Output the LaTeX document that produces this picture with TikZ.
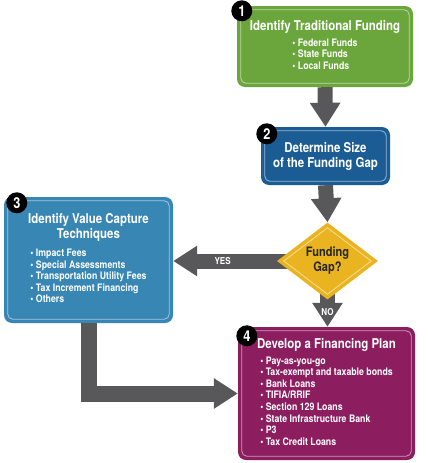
\documentclass[tikz,border=0pt]{standalone}
\usepackage{fontspec}
\setmainfont[FakeStretch=0.85]{TeX Gyre Heros}
\usetikzlibrary{arrows.meta,shapes.geometric}
\definecolor{grn}{RGB}{106,166,60}
\definecolor{dblu}{RGB}{28,92,148}
\definecolor{lblu}{RGB}{56,134,180}
\definecolor{mag}{RGB}{140,30,96}
\definecolor{ylw}{RGB}{234,180,32}
\definecolor{arrgray}{RGB}{88,88,90}
\tikzset{every node/.style={draw=none,inner sep=0pt},
  box/.style={rounded corners=8pt,text=white,align=center,
    font=\bfseries\fontsize{13.5}{15}\selectfont},
  num/.style={circle,fill=black,text=white,minimum size=21pt,
    font=\bfseries\fontsize{15}{15}\selectfont},
  arr/.style={draw=arrgray,line width=15pt,-{Triangle[length=24pt,width=29pt]}},
  lab/.style={text=white,font=\bfseries\fontsize{9.5}{9.5}\selectfont}}
\newcommand\blist{\fontsize{10.3}{11.6}\selectfont}

\begin{document}
\begin{tikzpicture}[x=1pt,y=-1pt]
\fill[white] (0,0) rectangle (428,463);
\useasboundingbox (0,0) rectangle (428,463);
      \node[box,fill=grn,minimum width=176pt,minimum height=81pt] (1) at (325,46.5)
        {Identify Traditional Funding\\[1pt]{\blist\begin{tabular}[t]{@{}l@{}}
        • Federal Funds\\ • State Funds\\ • Local Funds\end{tabular}}};
      \node[box,fill=dblu,minimum width=129pt,minimum height=58pt] (2) at (325.5,156)
        {Determine Size\\of the Funding Gap};
      \node[box,fill=lblu,minimum width=169pt,minimum height=126pt] (3) at (88.5,260)
        {Identify Value Capture\\Techniques\\[3pt]{\blist\begin{tabular}[t]{@{}l@{}}
        • Impact Fees\\ • Special Assessments\\ • Transportation Utility Fees\\
        • Tax Increment Financing\\ • Others\end{tabular}}};
      \node[box,fill=mag,minimum width=177pt,minimum height=133pt] (4) at (326.5,393.5)
        {Develop a Financing Plan\\[1pt]{\blist\begin{tabular}[t]{@{}l@{}}
        • Pay-as-you-go\\ • Tax-exempt and taxable bonds\\ • Bank Loans\\
        • TIFIA/RRIF\\ • Section 129 Loans\\ • State Infrastructure Bank\\
        • P3\\ • Tax Credit Loans\end{tabular}}};

\foreach \b/\c in {1/grn,2/dblu,3/lblu,4/mag}
  \draw[white!55!\c,line width=0.8pt,rounded corners=5pt]
    ([shift={(4,4)}]\b.north west) rectangle ([shift={(-4,-4)}]\b.south east);

      \coordinate (qc) at (327.5,261);
\draw[arr] (1.south) -- (2.north);
\draw[arr] (qc) -- (qc -| 3.east) node[lab,pos=0.68] {YES};
\draw[arr] (qc) -- (qc |- 4.north) node[lab,pos=0.77] {NO};
\draw[arr,line width=16pt] (3.south) |- (4.west);

      \node[diamond,fill=ylw,minimum width=101pt,minimum height=77pt,align=center,
        text=black!85,font=\bfseries\fontsize{13}{15}\selectfont] (q) at (qc) {Funding\\Gap?};
\draw[white!55!ylw,line width=0.8pt] ([xshift=7pt]q.west) -- ([yshift=-5.5pt]q.north)
  -- ([xshift=-7pt]q.east) -- ([yshift=5.5pt]q.south) -- cycle;
\draw[arr] (2.south) -- (q.north);

      \node[num] (c1) at ([shift={(5,5)}]1.north west) {1};
      \node[num] (c2) at ([shift={(6,7)}]2.north west) {2};
      \node[num] (c3) at ([shift={(13,6)}]3.north west) {3};
      \node[num] (c4) at ([shift={(9,9)}]4.north west) {4};
    \end{tikzpicture}
\end{document}
